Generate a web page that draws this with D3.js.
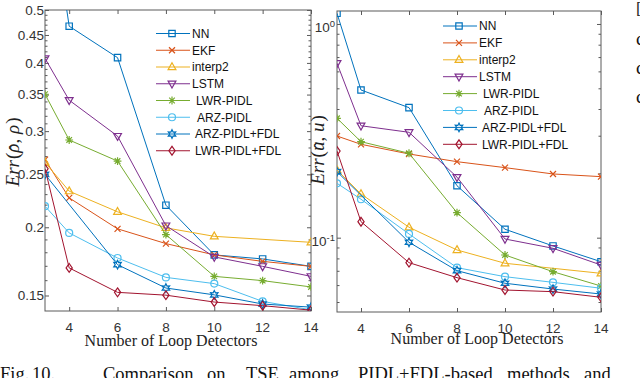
<!DOCTYPE html>
<html><head><meta charset="utf-8">
<script src="https://cdn.jsdelivr.net/npm/d3@7"></script>
<style>body{margin:0;background:#fff}svg{display:block}</style>
</head><body><svg id="c" width="640" height="378"></svg>
<script>
// ---------- data ----------
const detectors = [3, 4, 6, 8, 10, 12, 14];
const xTickValues = [4, 6, 8, 10, 12, 14];
const methods = ["NN", "EKF", "interp2", "LSTM", "LWR-PIDL", "ARZ-PIDL", "ARZ-PIDL+FDL", "LWR-PIDL+FDL"];
const rhoNN       = [0.93, 0.467, 0.409, 0.2195, 0.178, 0.175, 0.1696];
const rhoEKF      = [0.266, 0.2264, 0.1987, 0.1867, 0.178, 0.1732, 0.1696];
const rhoInterp2  = [0.263, 0.2329, 0.2135, 0.1995, 0.1925, null, 0.1877];
const rhoLSTM     = [0.4077, 0.3418, 0.2938, 0.2014, 0.1765, 0.1696, 0.1626];
const rhoLWR      = [0.3505, 0.289, 0.2644, 0.1939, 0.1626, 0.1597, 0.1555];
const rhoARZ      = [0.2186, 0.1953, 0.1757, 0.1619, 0.1577, 0.1463, 0.1412];
const rhoARZFDL   = [0.25, null, 0.1708, 0.1548, 0.1504, 0.1447, 0.1428];
const rhoLWRFDL   = [0.256, 0.1685, 0.152, 0.1502, 0.1459, 0.1437, 0.141];
const uNN         = [1.122, 0.491, 0.406, 0.175, 0.1095, 0.0915, 0.0772];
const uEKF        = [0.299, 0.2735, 0.2464, 0.2268, 0.2127, 0.1987, 0.193];
const uInterp2    = [0.2074, 0.1601, 0.1119, 0.0876, 0.0759, null, 0.0681];
const uLSTM       = [0.655, 0.334, 0.3113, 0.192, 0.0986, 0.0892, 0.0745];
const uLWR        = [0.362, 0.2813, 0.2483, 0.1309, 0.083, 0.0693, 0.0594];
const uARZ        = [0.1797, 0.1513, 0.1041, 0.0724, 0.0657, 0.0618, 0.058];
const uARZFDL     = [0.2036, null, 0.0952, 0.0701, 0.0612, 0.0575, 0.0545];
const uLWRFDL     = [0.2544, 0.1188, 0.0764, 0.065, 0.0569, 0.0559, 0.0526];
const rhoTicks = [0.15, 0.2, 0.25, 0.3, 0.35, 0.4, 0.45, 0.5];
const rhoTickLabels = ["0.15", "0.2", "0.25", "0.3", "0.35", "0.4", "0.45", "0.5"];
const uTicks = [0.1, 1];
const uTickExp = ["-1", "0"];

// ---------- style ----------
const colors = ["#0072BD", "#D95319", "#EDB120", "#7E2F8E", "#77AC30", "#4DBEEE", "#0072BD", "#A2142F"];
const markers = ["square", "x", "triUp", "triDown", "asterisk", "circle", "hexagram", "diamond"];
const legendIndent = [0, 0, 0, 0, 4, 5, 3, 3];
const axisColor = "#5a5a5a", textColor = "#333";

const svg = d3.select("#c");

function hexPath(R, r) {
  let p = "";
  for (let i = 0; i < 12; i++) {
    const a = -Math.PI / 2 + i * Math.PI / 6, rr = i % 2 ? r : R;
    p += (i ? "L" : "M") + (rr * Math.cos(a)).toFixed(2) + "," + (rr * Math.sin(a)).toFixed(2);
  }
  return p + "Z";
}
const markerPaths = {
  square: "M-3.2,-3.2h6.4v6.4h-6.4z",
  x: "M-3,-3L3,3M-3,3L3,-3",
  triUp: "M0,-4.3L3.9,2.6L-3.9,2.6Z",
  triDown: "M0,4.3L3.9,-2.6L-3.9,-2.6Z",
  asterisk: "M0,-3.9V3.9M-3.9,0H3.9M-2.8,-2.8L2.8,2.8M-2.8,2.8L2.8,-2.8",
  hexagram: hexPath(4.3, 2.3),
  diamond: "M0,-4.4L3.1,0L0,4.4L-3.1,0Z"
};
function drawMarker(g, type, cx, cy, color) {
  if (type === "circle") {
    g.append("circle").attr("cx", cx).attr("cy", cy).attr("r", 3.5)
      .attr("fill", "none").attr("stroke", color).attr("stroke-width", 1.2);
  } else {
    g.append("path").attr("d", markerPaths[type]).attr("transform", `translate(${cx},${cy})`)
      .attr("fill", "none").attr("stroke", color).attr("stroke-width", 1.2);
  }
}

function panel(cfg, id) {
  const x = d3.scaleLinear().domain([3, 14]).range([cfg.x0, cfg.x1]);
  const y = d3.scaleLog().domain(cfg.yDomain).range([cfg.y1, cfg.y0]);
  const g = svg.append("g");
  g.append("clipPath").attr("id", id).append("rect")
    .attr("x", cfg.x0).attr("y", cfg.y0).attr("width", cfg.x1 - cfg.x0).attr("height", cfg.y1 - cfg.y0);

  const ax = (gen) => {
    const a = g.append("g");
    a.call(gen);
    a.select(".domain").remove();
    a.selectAll(".tick line").attr("stroke", axisColor);
    a.selectAll("text").remove();
    return a;
  };
  ax(d3.axisBottom(x).tickValues(xTickValues).tickSize(-4)).attr("transform", `translate(0,${cfg.y1})`);
  ax(d3.axisTop(x).tickValues(xTickValues).tickSize(-4)).attr("transform", `translate(0,${cfg.y0})`);
  ax(d3.axisLeft(y).tickValues(cfg.major).tickSize(-4)).attr("transform", `translate(${cfg.x0},0)`);
  ax(d3.axisLeft(y).tickValues(cfg.minor).tickSize(-2.5)).attr("transform", `translate(${cfg.x0},0)`);
  ax(d3.axisRight(y).tickValues(cfg.major).tickSize(-4)).attr("transform", `translate(${cfg.x1},0)`);
  ax(d3.axisRight(y).tickValues(cfg.minor).tickSize(-2.5)).attr("transform", `translate(${cfg.x1},0)`);

  g.append("rect").attr("x", cfg.x0).attr("y", cfg.y0)
    .attr("width", cfg.x1 - cfg.x0).attr("height", cfg.y1 - cfg.y0)
    .attr("fill", "none").attr("stroke", axisColor).attr("stroke-width", 1);

  g.selectAll(".xl").data(xTickValues).enter().append("text")
    .attr("x", d => x(d)).attr("y", cfg.y1 + 21).attr("text-anchor", "middle")
    .attr("font-family", "Liberation Sans, Arial, sans-serif").attr("font-size", 13.5)
    .attr("fill", textColor).text(d => d);

  cfg.yLabels(g, y);

  const lg = g.append("g").attr("clip-path", `url(#${id})`);
  cfg.series.forEach((vals, i) => {
    const pts = detectors.map((d, j) => [d, vals[j]]).filter(p => p[1] != null);
    lg.append("path").attr("d", d3.line().x(p => x(p[0])).y(p => y(p[1]))(pts))
      .attr("fill", "none").attr("stroke", colors[i]).attr("stroke-width", 1);
    pts.forEach(p => drawMarker(lg, markers[i], x(p[0]), y(p[1]), colors[i]));
  });

  methods.forEach((m, i) => {
    const ly = cfg.legY + i * cfg.legDy;
    g.append("line").attr("x1", cfg.legX).attr("x2", cfg.legX + 34).attr("y1", ly).attr("y2", ly)
      .attr("stroke", colors[i]).attr("stroke-width", 1);
    drawMarker(g, markers[i], cfg.legX + 16, ly, colors[i]);
    g.append("text").attr("x", cfg.legX + 36 + legendIndent[i]).attr("y", ly + 4.3)
      .attr("font-family", "Liberation Sans, Arial, sans-serif").attr("font-size", 12)
      .attr("fill", "#111").text(m);
  });

  g.append("text").attr("x", cfg.xlabX).attr("y", cfg.xlabY).attr("text-anchor", "middle")
    .attr("font-family", "Liberation Serif, Times New Roman, serif").attr("font-size", 16)
    .attr("fill", "#222").text("Number of Loop Detectors");

  const t = g.append("text").attr("transform", `translate(${cfg.ylabX},${cfg.ylabY}) rotate(-90)`)
    .attr("text-anchor", "middle").attr("font-family", "Liberation Serif, Times New Roman, serif")
    .attr("font-size", 19).attr("fill", "#222");
  t.append("tspan").attr("font-style", "italic").text("Err");
  t.append("tspan").attr("dx", 1).text("(");
  t.append("tspan").attr("font-style", "italic").text(cfg.sym);
  t.append("tspan").attr("dx", -7).attr("dy", 3).text("\u02C6");
  t.append("tspan").attr("dx", 0.8).attr("dy", -3).text(", ");
  t.append("tspan").attr("font-style", "italic").text(cfg.sym);
  t.append("tspan").attr("dx", 1).text(")");
}

panel({
  x0: 45, x1: 311, y0: 10, y1: 311, yDomain: [0.1405, 0.5],
  major: rhoTicks,
  minor: d3.range(15, 50).map(v => v / 100).filter(v => !rhoTicks.some(t => Math.abs(t - v) < 1e-9)),
  yLabels: (g, y) => {
    g.selectAll(".yl").data(rhoTicks).enter().append("text")
      .attr("x", 44).attr("y", (d) => y(d) + 4.8).attr("text-anchor", "end")
      .attr("font-family", "Liberation Sans, Arial, sans-serif").attr("font-size", 13.5)
      .attr("fill", textColor).text((d, i) => rhoTickLabels[i]);
  },
  series: [rhoNN, rhoEKF, rhoInterp2, rhoLSTM, rhoLWR, rhoARZ, rhoARZFDL, rhoLWRFDL],
  legX: 156, legY: 33.5, legDy: 16.75,
  xlabX: 171, xlabY: 346, ylabX: 19, ylabY: 152, sym: "ρ"
}, "clipL");

panel({
  x0: 337, x1: 601, y0: 11, y1: 312, yDomain: [0.0449, 1.15],
  major: uTicks,
  minor: [0.05, 0.06, 0.07, 0.08, 0.09, 0.2, 0.3, 0.4, 0.5, 0.6, 0.7, 0.8, 0.9],
  yLabels: (g, y) => {
    uTicks.forEach((d, i) => {
      const t = g.append("text").attr("x", 335).attr("y", y(d) + 8.5).attr("text-anchor", "end")
        .attr("font-family", "Liberation Sans, Arial, sans-serif").attr("font-size", 13.5)
        .attr("fill", textColor);
      t.append("tspan").text("10");
      t.append("tspan").attr("dy", -5.5).attr("font-size", 9.5).text(uTickExp[i]);
    });
  },
  series: [uNN, uEKF, uInterp2, uLSTM, uLWR, uARZ, uARZFDL, uLWRFDL],
  legX: 443, legY: 26, legDy: 16.9,
  xlabX: 477, xlabY: 344, ylabX: 324, ylabY: 150, sym: "u"
}, "clipR");

// caption (cropped at the bottom edge in the reference)
const capWords = [["Fig.", 0], ["10.", 32], ["Comparison", 103], ["on", 207], ["TSE", 246], ["among", 289], ["PIDL+FDL-based", 358], ["methods", 507], ["and", 584]];
capWords.forEach(w => svg.append("text").attr("x", w[1]).attr("y", 380)
  .attr("font-family", "Liberation Serif, Times New Roman, serif").attr("font-size", 18.5)
  .attr("fill", "#111").text(w[0]));
// cropped text fragments on the right edge
svg.append("text").attr("x", 636).attr("y", 14).attr("font-family", "Liberation Serif, serif")
  .attr("font-size", 17).attr("fill", "#222").text("[");
[45, 74, 103].forEach(yy => svg.append("text").attr("x", 636).attr("y", yy)
  .attr("font-family", "Liberation Serif, serif").attr("font-size", 19).attr("fill", "#111").text("c"));
</script></body></html>
